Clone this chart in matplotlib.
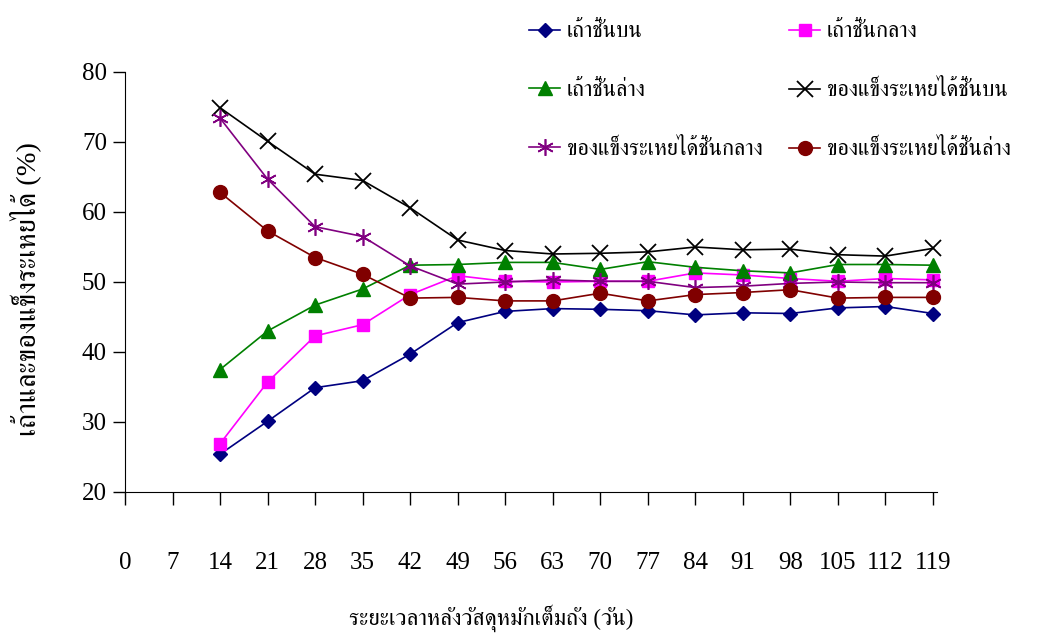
import numpy as np
import matplotlib
matplotlib.use('Agg')
import matplotlib.pyplot as plt
from matplotlib import font_manager
from matplotlib.ft2font import FT2Font

# find a font that has Thai glyphs (prefer serif ones)
def thai_fonts():
    found = []
    for f in font_manager.fontManager.ttflist:
        try:
            ft = FT2Font(f.fname)
            if ft.get_char_index(0x0E01) and ft.get_char_index(0x0E49):
                found.append(f.name)
        except Exception:
            pass
    return sorted(set(found))

thai = thai_fonts()
serif_first = [n for n in thai if 'Serif' in n] + [n for n in thai if 'Serif' not in n]
families = ['Liberation Serif'] + serif_first[:1] + ['DejaVu Sans']
plt.rcParams['font.family'] = families

days = [14, 21, 28, 35, 42, 49, 56, 63, 70, 77, 84, 91, 98, 105, 112, 119]
ash_top = [25.4, 30.1, 34.9, 35.9, 39.7, 44.2, 45.8, 46.2, 46.1, 45.9, 45.3, 45.6, 45.5, 46.3, 46.5, 45.5]
ash_mid = [26.9, 35.7, 42.3, 43.9, 48.2, 50.9, 50.1, 50.0, 50.1, 50.1, 51.3, 51.0, 50.5, 50.1, 50.5, 50.3]
ash_low = [37.5, 43.0, 46.7, 49.0, 52.4, 52.5, 52.8, 52.8, 51.8, 52.9, 52.1, 51.6, 51.3, 52.5, 52.5, 52.4]
vs_top = [74.9, 70.1, 65.4, 64.5, 60.6, 56.0, 54.5, 54.0, 54.1, 54.3, 55.0, 54.6, 54.7, 53.9, 53.7, 54.8]
vs_mid = [73.4, 64.7, 57.9, 56.5, 52.3, 49.7, 50.0, 50.3, 50.1, 50.1, 49.2, 49.4, 49.8, 50.0, 49.9, 49.9]
vs_low = [62.8, 57.3, 53.5, 51.1, 47.7, 47.8, 47.3, 47.3, 48.4, 47.3, 48.2, 48.5, 48.9, 47.7, 47.8, 47.8]

labels = ['เถ้าชั้นบน', 'เถ้าชั้นกลาง', 'เถ้าชั้นล่าง',
          'ของแข็งระเหยได้ชั้นบน', 'ของแข็งระเหยได้ชั้นกลาง', 'ของแข็งระเหยได้ชั้นล่าง']
xticks = list(range(0, 120, 7))

fig = plt.figure(figsize=(10.45, 6.37), dpi=100)
ax = fig.add_axes([125/1045, 1-492/637, 812/1045, 420/637])

styles = [
    dict(color='#000080', marker='D', ms=7.5),
    dict(color='#FF00FF', marker='s', ms=9),
    dict(color='#008000', marker='^', ms=10),
    dict(color='black', marker='x', ms=11, mew=1.3),
    dict(color='#800080', marker=(6, 2, 0), ms=12, mew=1.2),
    dict(color='#800000', marker='o', ms=10),
]
series = [ash_top, ash_mid, ash_low, vs_top, vs_mid, vs_low]
handles = []
for ys, lab, st in zip(series, labels, styles):
    h, = ax.plot(days, ys, lw=1.2, label=lab, clip_on=False, **st)
    handles.append(h)

ax.set_xlim(0, 119.6)
ax.set_ylim(20, 80)
ax.set_xticks(xticks)
ax.set_xticklabels([str(v) for v in xticks])
ax.set_yticks(range(20, 81, 10))
for s in ['top', 'right']:
    ax.spines[s].set_visible(False)
ax.tick_params(axis='x', direction='out', length=9, width=1, pad=34, labelsize=18)
ax.tick_params(axis='y', direction='out', length=9, width=1, pad=4, labelsize=18)

fig.text(25/1045, 1-289/637, 'เถ้าและของแข็งระเหยได้ (%)', rotation=90,
         ha='center', va='center', fontsize=20.5)
fig.text(491/1045, 1-618/637, 'ระยะเวลาหลังวัสดุหมักเต็มถัง (วัน)',
         ha='center', va='center', fontsize=16.5)

order = [0, 2, 4, 1, 3, 5]
fig.legend([handles[i] for i in order], [labels[i] for i in order],
           loc='center', bbox_to_anchor=(770/1045, 1-91/637), ncol=2,
           frameon=False, fontsize=16, handlelength=1.4, handletextpad=0.3,
           labelspacing=1.71, columnspacing=1.2, borderpad=0, borderaxespad=0)

fig.savefig('out.png', dpi=100)
